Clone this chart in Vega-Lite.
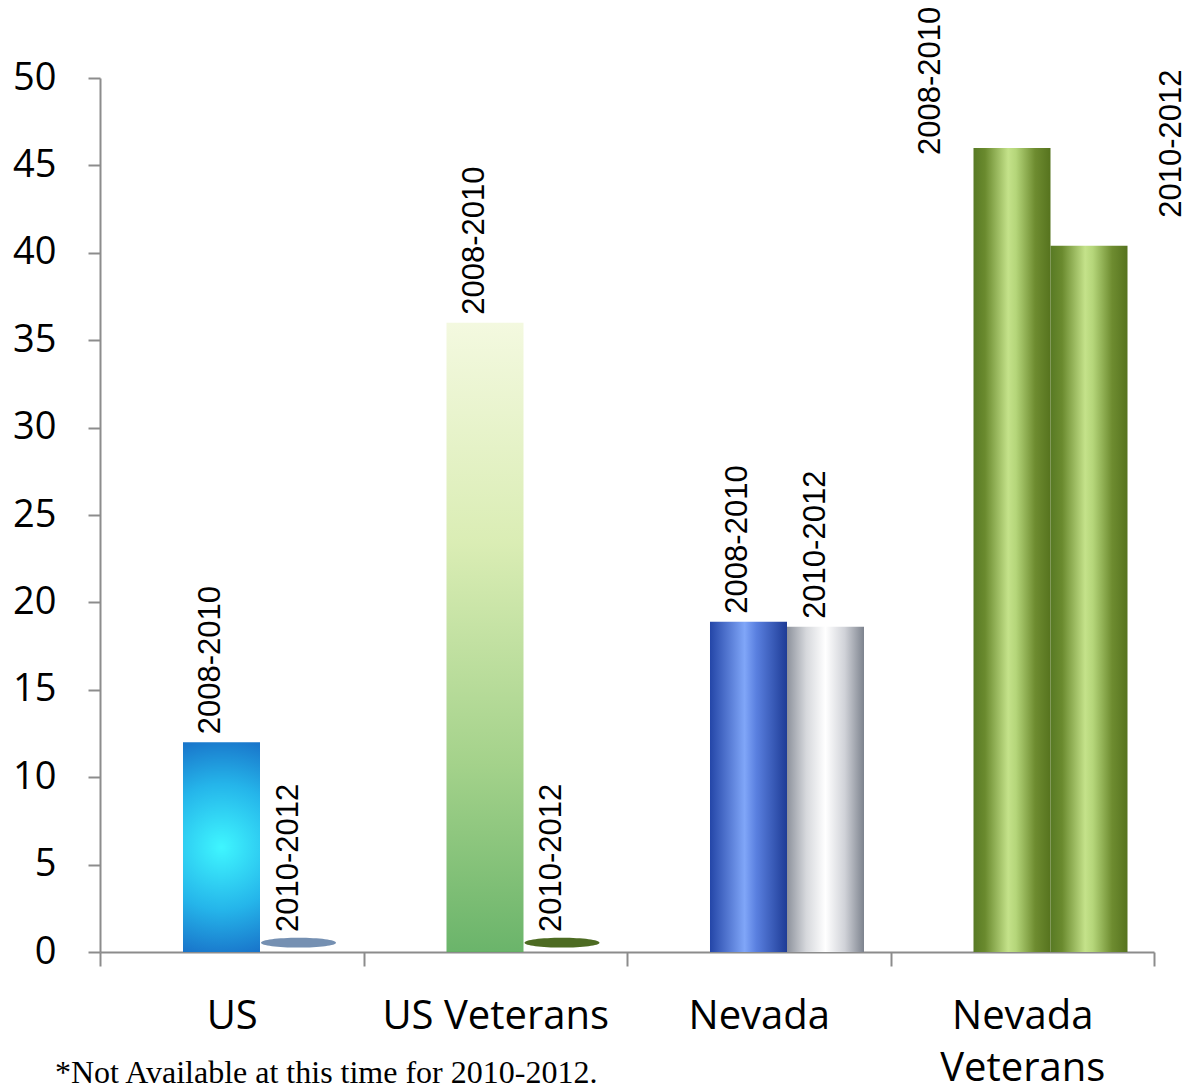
{
  "$schema": "https://vega.github.io/schema/vega-lite/v6.json",
  "autosize": "none",
  "width": 1054,
  "height": 874,
  "padding": {"left": 100, "top": 78, "right": 46, "bottom": 139},
  "background": "white",
  "config": {"view": {"stroke": null}},
  "title": {
    "text": "*Not Available at this time for 2010-2012.",
    "orient": "bottom",
    "anchor": "start",
    "frame": "group",
    "font": "Liberation Serif",
    "fontSize": 32,
    "fontWeight": "normal",
    "color": "black",
    "baseline": "alphabetic",
    "dx": -45,
    "dy": -9
  },
  "data": {
    "values": [
      {"group": "US", "period": "2008-2010", "rate": 12.0},
      {"group": "US", "period": "2010-2012", "rate": null},
      {"group": "US Veterans", "period": "2008-2010", "rate": 36.0},
      {"group": "US Veterans", "period": "2010-2012", "rate": null},
      {"group": "Nevada", "period": "2008-2010", "rate": 18.9},
      {"group": "Nevada", "period": "2010-2012", "rate": 18.6},
      {"group": "Nevada Veterans", "period": "2008-2010", "rate": 46.0},
      {"group": "Nevada Veterans", "period": "2010-2012", "rate": 40.4}
    ]
  },
  "encoding": {
    "x": {
      "field": "group",
      "type": "nominal",
      "scale": {"domain": ["US", "US Veterans", "Nevada", "Nevada Veterans"], "paddingInner": 0, "paddingOuter": 0},
      "axis": {
        "title": null,
        "labelAngle": 0,
        "tickBand": "extent",
        "domainColor": "#8c8c8c",
        "domainWidth": 2,
        "tickColor": "#8c8c8c",
        "tickWidth": 2,
        "tickSize": 14,
        "labelPadding": 30,
        "labelFont": "Open Sans",
        "labelFontSize": 40,
        "labelColor": "black",
        "labelLimit": 500,
        "labelLineHeight": 52,
        "labelBaseline": "top",
        "labelExpr": "datum.label == 'Nevada Veterans' ? ['Nevada', 'Veterans'] : datum.label"
      }
    },
    "xOffset": {
      "field": "period",
      "type": "nominal",
      "scale": {"domain": ["2008-2010", "2010-2012"], "paddingInner": 0, "paddingOuter": 0.711, "align": 0.758}
    }
  },
  "layer": [
    {
      "transform": [{"filter": "datum.group == 'US' && datum.period == '2008-2010'"}],
      "mark": {"type": "bar", "color": {"gradient": "radial", "x1": 0.5, "y1": 0.5, "x2": 0.5, "y2": 0.5, "r1": 0, "r2": 0.6, "stops": [{"offset": 0, "color": "#3ff6ff"}, {"offset": 0.5, "color": "#25b5ea"}, {"offset": 1, "color": "#1560c0"}]}},
      "encoding": {
        "y": {
          "field": "rate",
          "type": "quantitative",
          "scale": {"domain": [0, 50], "nice": false},
          "axis": {
            "title": null,
            "values": [0, 5, 10, 15, 20, 25, 30, 35, 40, 45, 50],
            "grid": false,
            "domainColor": "#8c8c8c",
            "domainWidth": 2,
            "tickColor": "#8c8c8c",
            "tickWidth": 2,
            "tickSize": 12,
            "labelPadding": 32,
            "labelFont": "Open Sans",
            "labelFontSize": 38,
            "labelColor": "black"
          }
        }
      }
    },
    {
      "transform": [{"filter": "datum.group == 'US Veterans' && datum.period == '2008-2010'"}],
      "mark": {"type": "bar", "opacity": 0.9, "color": {"gradient": "linear", "x1": 0, "y1": 0, "x2": 0, "y2": 1, "stops": [{"offset": 0, "color": "#f2f8dc"}, {"offset": 0.35, "color": "#d6ebac"}, {"offset": 0.7, "color": "#9acd7e"}, {"offset": 1, "color": "#5aac5a"}]}},
      "encoding": {"y": {"field": "rate", "type": "quantitative"}}
    },
    {
      "transform": [{"filter": "datum.group == 'Nevada' && datum.period == '2008-2010'"}],
      "mark": {"type": "bar", "color": {"gradient": "linear", "stops": [{"offset": 0, "color": "#2446a8"}, {"offset": 0.45, "color": "#80a6f8"}, {"offset": 0.6, "color": "#5a80e0"}, {"offset": 1, "color": "#1e3c96"}]}},
      "encoding": {"y": {"field": "rate", "type": "quantitative"}}
    },
    {
      "transform": [{"filter": "datum.group == 'Nevada' && datum.period == '2010-2012'"}],
      "mark": {"type": "bar", "color": {"gradient": "linear", "stops": [{"offset": 0, "color": "#8d929c"}, {"offset": 0.25, "color": "#d6d8dc"}, {"offset": 0.5, "color": "#ffffff"}, {"offset": 0.75, "color": "#d0d2d8"}, {"offset": 1, "color": "#7d838e"}]}},
      "encoding": {"y": {"field": "rate", "type": "quantitative"}}
    },
    {
      "transform": [{"filter": "datum.group == 'Nevada Veterans'"}],
      "mark": {"type": "bar", "color": {"gradient": "linear", "stops": [{"offset": 0, "color": "#587a24"}, {"offset": 0.15, "color": "#6a8a2e"}, {"offset": 0.45, "color": "#c4e28a"}, {"offset": 0.55, "color": "#b5d67a"}, {"offset": 0.8, "color": "#6e8c30"}, {"offset": 1, "color": "#56731e"}]}},
      "encoding": {"y": {"field": "rate", "type": "quantitative"}}
    },
    {
      "transform": [{"filter": "datum.rate == null"}],
      "mark": {"type": "point", "filled": true, "opacity": 1, "size": 5625, "shape": "M -1 -0.25 A 1 0.13 0 1 0 1 -0.25 A 1 0.13 0 1 0 -1 -0.25 Z"},
      "encoding": {
        "y": {"datum": 0},
        "color": {"field": "group", "type": "nominal", "scale": {"domain": ["US", "US Veterans"], "range": ["#7590b2", "#4d6b22"]}, "legend": null}
      }
    },
    {
      "transform": [{"filter": "datum.rate != null && datum.group != 'Nevada Veterans'"}],
      "mark": {"type": "text", "angle": -90, "align": "left", "baseline": "middle", "dx": 8, "dy": -10, "font": "Liberation Sans", "fontSize": 31, "color": "black"},
      "encoding": {"y": {"field": "rate", "type": "quantitative"}, "text": {"field": "period"}}
    },
    {
      "transform": [{"filter": "datum.rate == null"}],
      "mark": {"type": "text", "angle": -90, "align": "left", "baseline": "middle", "dx": 20, "dy": -10, "font": "Liberation Sans", "fontSize": 31, "color": "black"},
      "encoding": {"y": {"datum": 0}, "text": {"field": "period"}}
    },
    {
      "transform": [{"filter": "datum.group == 'Nevada Veterans' && datum.period == '2008-2010'"}],
      "mark": {"type": "text", "angle": -90, "align": "left", "baseline": "middle", "dx": -7, "dy": -81, "font": "Liberation Sans", "fontSize": 31, "color": "black"},
      "encoding": {"y": {"field": "rate", "type": "quantitative"}, "text": {"field": "period"}}
    },
    {
      "transform": [{"filter": "datum.group == 'Nevada Veterans' && datum.period == '2010-2012'"}],
      "mark": {"type": "text", "angle": -90, "align": "left", "baseline": "middle", "dx": 28, "dy": 83, "font": "Liberation Sans", "fontSize": 31, "color": "black"},
      "encoding": {"y": {"field": "rate", "type": "quantitative"}, "text": {"field": "period"}}
    }
  ]
}
